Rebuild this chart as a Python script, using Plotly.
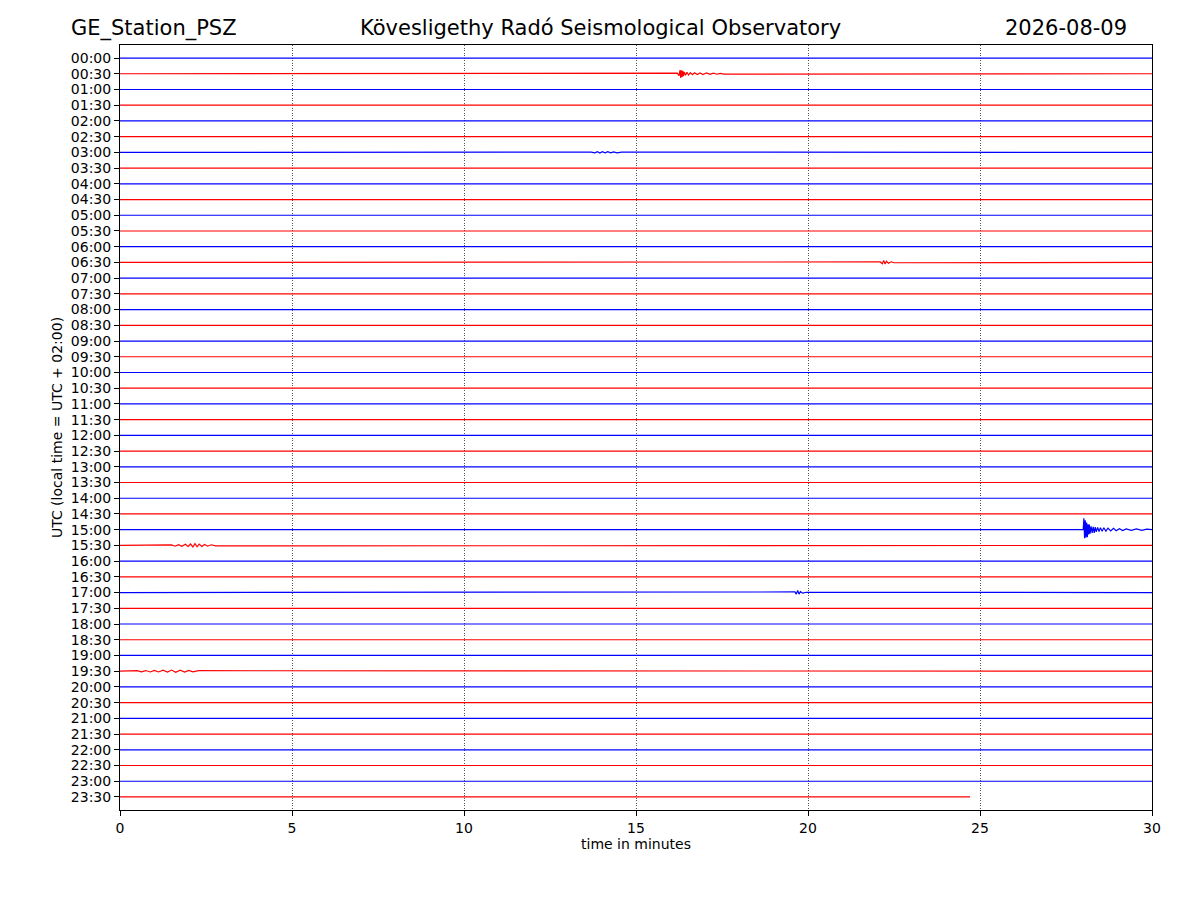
import plotly.graph_objects as go

# === Helicorder rows (30 min each) ===
row_labels = [f"{h:02d}:{m:02d}" for h in range(24) for m in (0, 30)]
row_colors = ["blue", "red"]
trace_end = [30.0] * 47 + [24.71]   # last row stops early

# === Events: row -> (minutes, amplitude in row units) ===
ev_0030_t = [16.20, 16.25, 16.28, 16.30, 16.32, 16.34, 16.36, 16.38, 16.40, 16.44, 16.48, 16.53,
             16.58, 16.64, 16.70, 16.78, 16.86, 16.95, 17.05, 17.15, 17.25, 17.35, 17.45, 17.55]
ev_0030_a = [0.04, -0.12, 0.24, -0.26, 0.22, -0.2, 0.18, -0.15, 0.12, -0.10, 0.09, -0.08,
             0.07, -0.06, 0.06, -0.05, 0.05, -0.05, 0.06, -0.04, 0.04, -0.03, 0.03, -0.02]

ev_0300_t = [13.70, 13.80, 13.88, 13.95, 14.02, 14.10, 14.18, 14.26, 14.35, 14.45, 14.58]
ev_0300_a = [0.02, -0.03, 0.04, -0.04, 0.04, -0.03, 0.04, -0.03, 0.03, -0.03, 0.02]

ev_0630_t = [22.10, 22.16, 22.20, 22.24, 22.28, 22.34, 22.42, 22.50]
ev_0630_a = [0.03, -0.08, 0.12, -0.10, 0.07, -0.05, 0.04, -0.02]

ev_1500_t = [28.00, 28.02, 28.04, 28.06, 28.08, 28.10, 28.12, 28.14, 28.16, 28.18, 28.20,
             28.23, 28.26, 28.29, 28.32, 28.35, 28.38, 28.42, 28.46, 28.50, 28.55, 28.60,
             28.66, 28.72, 28.80, 28.88, 28.96, 29.05, 29.15, 29.25, 29.40, 29.55, 29.70, 29.85]
ev_1500_a = [0.0, 0.72, -0.55, 0.60, -0.50, 0.45, -0.48, 0.35, -0.30, 0.32, -0.25,
             0.22, -0.20, 0.18, -0.20, 0.16, -0.14, 0.15, -0.12, 0.13, -0.10, 0.12,
             -0.09, 0.10, -0.08, 0.09, -0.07, 0.06, -0.06, 0.05, -0.04, 0.05, -0.04, 0.03]

ev_1530_t = [1.50, 1.60, 1.70, 1.80, 1.90, 1.98, 2.05, 2.12, 2.18, 2.24, 2.30, 2.38, 2.46,
             2.55, 2.65, 2.78]
ev_1530_a = [0.03, -0.05, 0.05, -0.06, 0.07, -0.07, 0.09, -0.10, 0.11, -0.09, 0.08, -0.07,
             0.06, -0.05, 0.04, -0.03]

ev_1700_t = [19.62, 19.66, 19.70, 19.74, 19.78, 19.85, 19.95]
ev_1700_a = [0.04, -0.10, 0.13, -0.10, 0.06, -0.04, 0.02]

ev_1930_t = [0.50, 0.62, 0.75, 0.88, 1.00, 1.12, 1.25, 1.38, 1.50, 1.62, 1.75, 1.88, 2.00,
             2.12, 2.28]
ev_1930_a = [0.03, -0.04, 0.04, -0.05, 0.05, -0.05, 0.06, -0.06, 0.07, -0.07, 0.06, -0.06,
             0.05, -0.04, 0.03]

events = {
    1: (ev_0030_t, ev_0030_a),
    6: (ev_0300_t, ev_0300_a),
    13: (ev_0630_t, ev_0630_a),
    30: (ev_1500_t, ev_1500_a),
    31: (ev_1530_t, ev_1530_a),
    34: (ev_1700_t, ev_1700_a),
    39: (ev_1930_t, ev_1930_a),
}

fig = go.Figure()

for i, label in enumerate(row_labels):
    xs, amps = [0.0], [0.0]
    if i in events:
        t, a = events[i]
        xs += t
        amps += a
    xs.append(trace_end[i])
    amps.append(0.0)
    fig.add_trace(go.Scatter(
        x=xs, y=[i - a for a in amps],
        mode="lines",
        line=dict(color=row_colors[i % 2], width=1.2),
        hoverinfo="skip",
        showlegend=False,
    ))

# === Titles ===
title_font = dict(family="DejaVu Sans", size=21, color="black")
for txt, xp, anchor in [("GE_Station_PSZ", -0.049, "left"),
                        ("Kövesligethy Radó Seismological Observatory", 0.466, "center"),
                        ("2026-08-09", 0.978, "right")]:
    fig.add_annotation(text=txt, x=xp, y=1.022, xref="paper", yref="paper",
                       xanchor=anchor, yanchor="middle", showarrow=False, font=title_font)

fig.update_layout(
    width=1200, height=900,
    margin=dict(l=112, r=56, t=37, b=98),
    plot_bgcolor="white", paper_bgcolor="white",
    font=dict(family="DejaVu Sans", size=14, color="black"),
    xaxis=dict(
        range=[0, 30], tickvals=[0, 5, 10, 15, 20, 25, 30],
        showgrid=True, gridcolor="#555555", gridwidth=0.6, griddash="1px,1.5px",
        zeroline=False, showline=True, linecolor="black", linewidth=1, mirror=True,
        ticks="outside", ticklen=5, tickcolor="black",
        title=dict(text="time in minutes", font=dict(size=14), standoff=4),
    ),
    yaxis=dict(
        range=[47.83, -0.83], tickvals=list(range(48)), ticktext=row_labels,
        showgrid=False, zeroline=False, showline=True, linecolor="black", linewidth=1,
        mirror=True, ticks="outside", ticklen=5, tickcolor="black",
        title=dict(text="UTC (local time = UTC + 02:00)", font=dict(size=14), standoff=4),
    ),
)

fig.write_html("out.html")
